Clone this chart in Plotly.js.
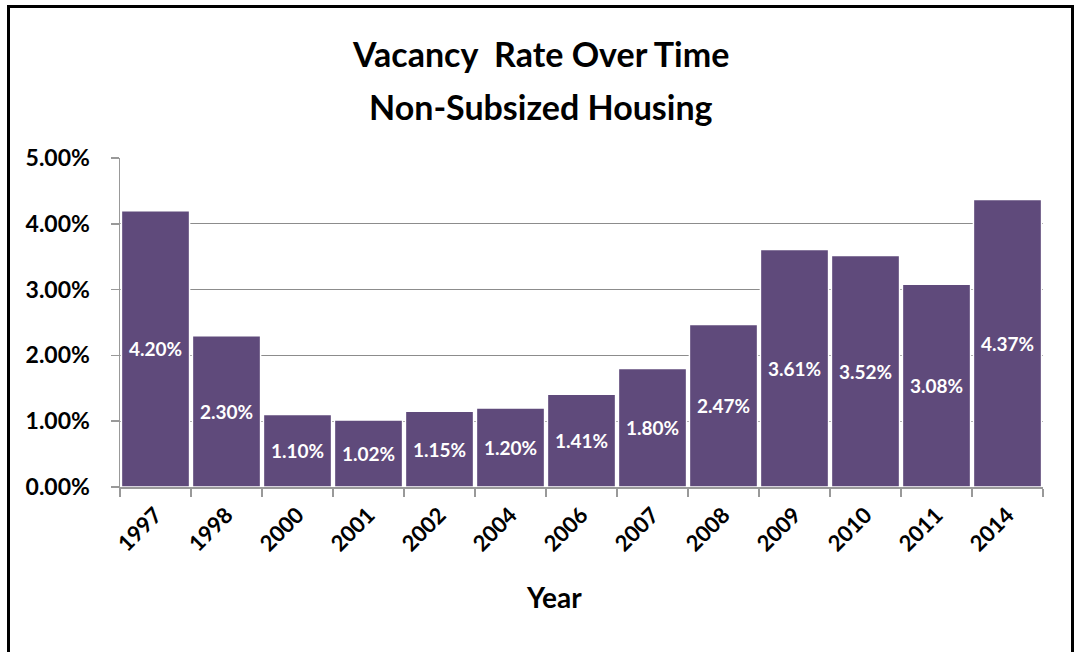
<!DOCTYPE html>
<html>
<head>
<meta charset="utf-8">
<script src="https://cdn.plot.ly/plotly-3.0.1.min.js"></script>
<style>
  html, body { margin: 0; padding: 0; background: #fff; }
  #chart { width: 1075px; height: 652px; position: relative; }
  #frame { position: absolute; left: 7px; top: 5px; width: 1067px; height: 660px;
           border-left: 3px solid #000; border-top: 3px solid #000; border-right: 3px solid #000;
           pointer-events: none; box-sizing: border-box; }
</style>
</head>
<body>
<div id="chart"></div>
<div id="frame"></div>
<script>
const years = ['1997','1998','2000','2001','2002','2004','2006','2007','2008','2009','2010','2011','2014'];
const vacancyRate = [0.0420, 0.0230, 0.0110, 0.0102, 0.0115, 0.0120, 0.0141, 0.0180, 0.0247, 0.0361, 0.0352, 0.0308, 0.0437];
const titleLines = ['Vacancy  Rate Over Time', 'Non-Subsized Housing'];
const xTitle = 'Year';
const fontFam = 'Lato, "Open Sans", sans-serif';

const trace = {
  type: 'bar',
  x: years,
  y: vacancyRate,
  marker: { color: '#5F4A7B', line: { color: '#ffffff', width: 1.5 } },
  texttemplate: '%{y:.2%}',
  textposition: 'inside',
  insidetextanchor: 'middle',
  textangle: 0,
  textfont: { family: fontFam, size: 19, color: '#ffffff', weight: 'bold' },
  hoverinfo: 'x+y'
};

const layout = {
  width: 1075, height: 652,
  margin: { l: 120, r: 32, t: 158, b: 165 },
  paper_bgcolor: '#ffffff', plot_bgcolor: '#ffffff',
  bargap: 0.04,
  showlegend: false,
  uniformtext: { mode: 'show', minsize: 19 },
  font: { family: fontFam, color: '#000' },
  xaxis: {
    type: 'category',
    tickson: 'boundaries',
    ticks: 'outside', ticklen: 8, tickcolor: '#999', tickwidth: 1.5,
    showline: true, linecolor: '#999', linewidth: 1.5,
    tickangle: -45,
    ticklabelstandoff: 5,
    tickfont: { family: fontFam, size: 22, weight: 'bold', color: '#000' }
  },
  yaxis: {
    range: [0, 0.05],
    dtick: 0.01,
    tickformat: '.2%',
    ticks: 'outside', ticklen: 8, tickcolor: '#999', tickwidth: 1.5,
    showline: true, linecolor: '#999', linewidth: 1.5,
    showgrid: true, gridcolor: '#8c8c8c', gridwidth: 1,
    zeroline: false,
    tickfont: { family: fontFam, size: 23, weight: 'bold', color: '#000' },
    ticklabelstandoff: 16
  },
  annotations: [
    { text: titleLines[0], xref: 'paper', yref: 'paper', x: 0.456, y: 1, yshift: 105, showarrow: false,
      xanchor: 'center', yanchor: 'middle', font: { family: fontFam, size: 34, weight: 'bold', color: '#000' } },
    { text: titleLines[1], xref: 'paper', yref: 'paper', x: 0.456, y: 1, yshift: 52, showarrow: false,
      xanchor: 'center', yanchor: 'middle', font: { family: fontFam, size: 34, weight: 'bold', color: '#000' } },
    { text: xTitle, xref: 'paper', yref: 'paper', x: 0.47, y: 0, yshift: -110, showarrow: false,
      xanchor: 'center', yanchor: 'middle', font: { family: fontFam, size: 28, weight: 'bold', color: '#000' } }
  ]
};

Plotly.newPlot('chart', [trace], layout, { displayModeBar: false, staticPlot: true });
</script>
</body>
</html>
